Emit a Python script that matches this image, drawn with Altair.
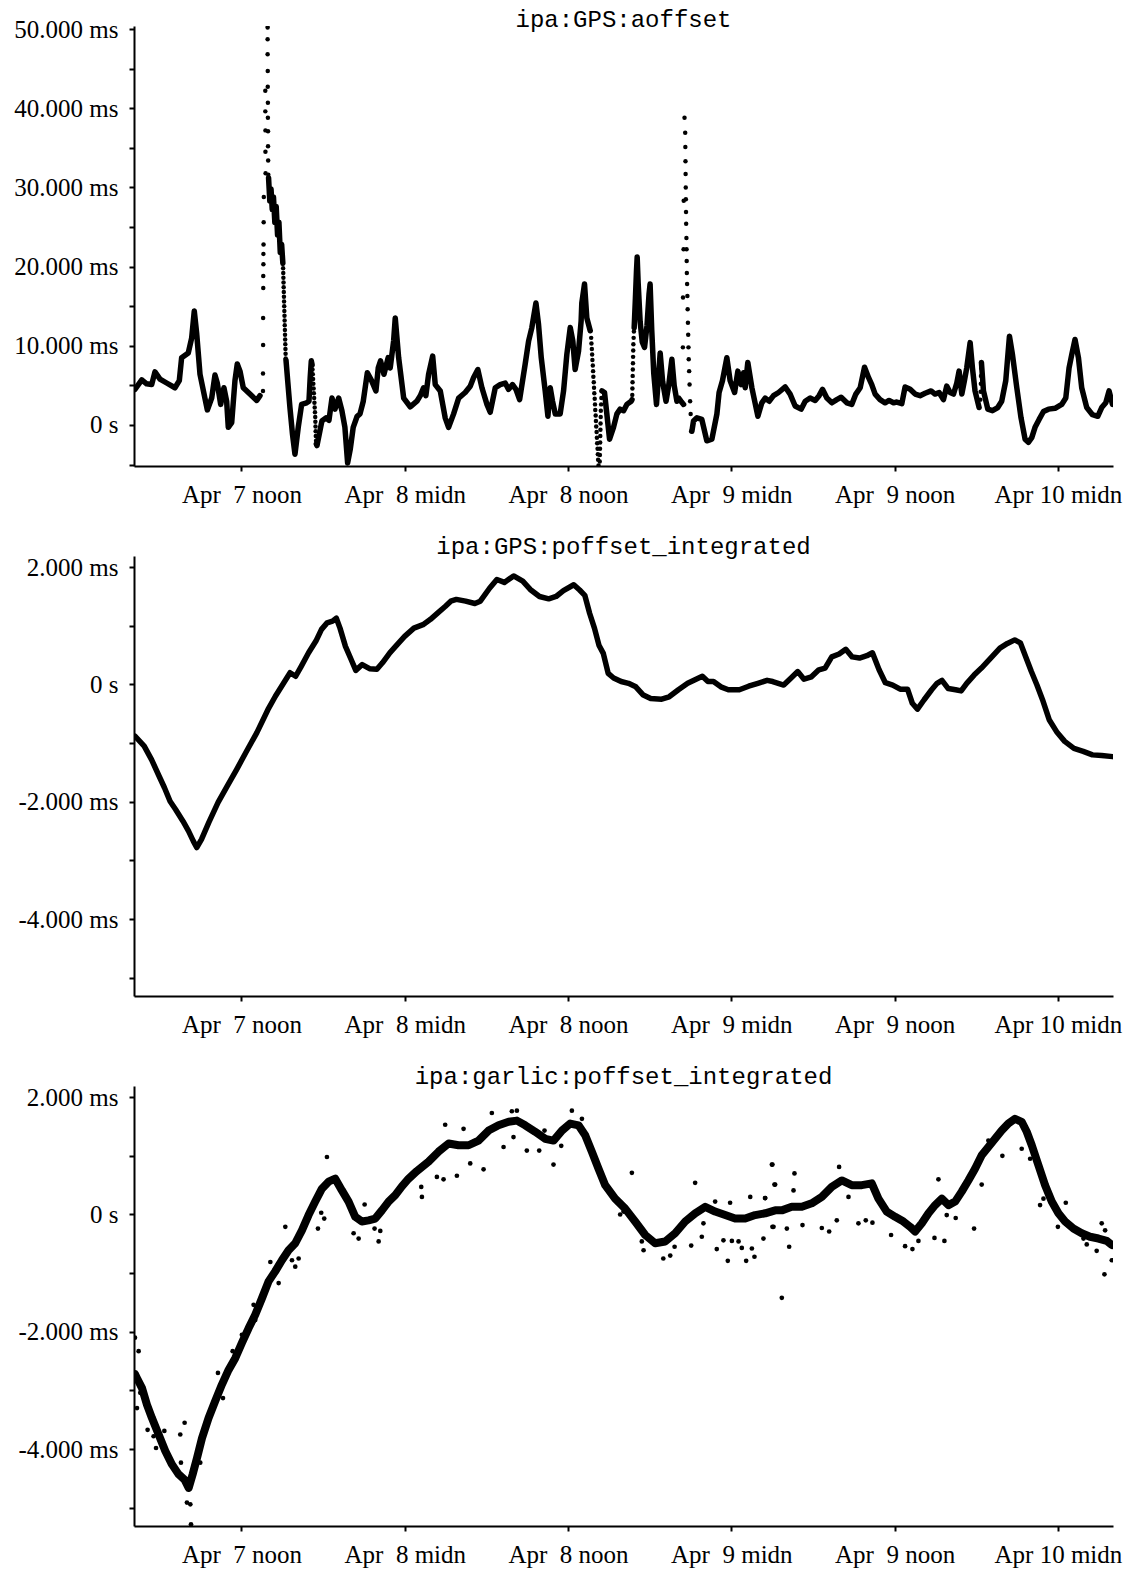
import altair as alt
import pandas as pd

# ---------------- axes / ticks ----------------
X_DOMAIN = [4.1, 76.05]          # hours since Apr 7 00:00
X_TICKS = [12, 24, 36, 48, 60, 72]
X_LABELS = ["Apr\u00a0\u00a07 noon", "Apr\u00a0\u00a08 midn", "Apr\u00a0\u00a08 noon",
            "Apr\u00a0\u00a09 midn", "Apr\u00a0\u00a09 noon", "Apr 10 midn"]

Y1_DOMAIN = [-5.18, 50.38]       # ms
Y1_TICKS = [-5, 0, 5, 10, 15, 20, 25, 30, 35, 40, 45, 50]
Y1_LABEL_VALUES = [0, 10, 20, 30, 40, 50]
Y1_LABEL_TEXTS = ["0 s", "10.000 ms", "20.000 ms", "30.000 ms", "40.000 ms", "50.000 ms"]

Y2_DOMAIN = [-5.31, 2.19]        # ms
Y2_TICKS = [-5, -4, -3, -2, -1, 0, 1, 2]
Y2_LABEL_VALUES = [-4, -2, 0, 2]
Y2_LABEL_TEXTS = ["-4.000 ms", "-2.000 ms", "0 s", "2.000 ms"]

TITLES = ["ipa:GPS:aoffset", "ipa:GPS:poffset_integrated", "ipa:garlic:poffset_integrated"]

# ---------------- panel 1: ipa:GPS:aoffset (hour, ms) ----------------
AOFF_A = [[4.17,4.5],[4.67,5.7],[5.03,5.2],[5.40,5.1],[5.64,6.7],[6.01,5.8],[6.50,5.3],[7.11,4.7],
          [7.43,5.6],[7.60,8.5],[8.09,9.1],[8.34,11.0],[8.53,14.4],[8.71,11.5],[8.95,6.4],[9.49,1.9],
          [9.81,3.4],[10.05,6.3],[10.22,5.3],[10.47,2.6],[10.71,4.7],[10.91,3.0],[11.03,-0.3],[11.28,0.3],
          [11.52,5.6],[11.69,7.7],[11.89,6.8],[12.13,4.7],[12.62,3.9],[13.12,3.1],[13.36,3.7]]
AOFF_B = [[13.99,31.2],[14.08,28.3],[14.17,29.8],[14.26,27.2],[14.35,28.8],[14.45,25.6],[14.55,27.6],
          [14.65,24.0],[14.75,25.6],[14.85,21.8],[14.95,22.8],[15.04,20.4]]
AOFF_C = [[15.27,8.2],[15.40,5.5],[15.56,2.2],[15.75,-1.2],[15.93,-3.7],[16.17,-0.3],[16.42,2.6],
          [16.79,2.8],[16.96,3.0],[17.05,6.0],[17.13,8.1],[17.19,7.6]]
AOFF_D = [[17.50,-2.4],[17.55,-2.6],[17.91,0.5],[18.21,0.9],[18.43,0.6],[18.65,3.4],[18.87,2.0],
          [19.14,3.4],[19.38,1.8],[19.60,-0.3],[19.80,-4.8],[20.00,-3.0],[20.21,-0.3],[20.50,1.1],
          [20.71,1.4],[20.95,3.0],[21.25,6.6],[21.56,5.6],[21.88,4.3],[22.05,7.2],[22.22,8.1],[22.47,6.4],
          [22.78,8.5],[22.93,7.2],[23.18,10.6],[23.30,13.5],[23.55,8.5],[23.92,3.4],[24.40,2.3],[24.89,3.0],
          [25.14,3.7],[25.38,4.7],[25.55,3.7],[25.75,6.4],[26.05,8.7],[26.24,5.1],[26.61,4.3],[26.97,0.9],
          [27.22,-0.3],[27.59,1.4],[27.96,3.4],[28.44,4.1],[28.81,4.9],[29.06,6.0],[29.37,7.0],[29.67,4.7],
          [30.04,2.6],[30.28,1.6],[30.65,4.7],[31.01,5.1],[31.38,5.3],[31.63,4.5],[31.92,5.1],[32.17,4.5],
          [32.44,3.2],[32.85,7.7],[33.10,10.6],[33.34,12.3],[33.64,15.4],[33.83,12.7],[34.03,8.5],
          [34.32,4.3],[34.52,1.1],[34.69,4.7],[34.86,3.0],[35.06,1.4],[35.42,1.4],[35.67,4.3],[35.91,8.9],
          [36.16,12.3],[36.35,10.6],[36.52,7.0],[36.77,9.3],[36.96,13.1],[37.01,15.4],[37.21,17.8],
          [37.38,13.5],[37.63,11.9]]
AOFF_E = [[38.49,4.3],[38.68,4.1],[38.85,1.4],[39.05,-1.8],[39.34,-0.3],[39.59,1.4],[39.83,2.0],
          [40.08,1.8],[40.32,2.6],[40.64,3.0],[40.70,3.2]]
AOFF_F = [[40.86,12.3],[40.95,16.0],[41.03,19.5],[41.08,21.2],[41.15,18.0],[41.30,13.0],[41.45,10.5],
          [41.62,9.8],[41.80,12.5],[41.95,16.5],[42.03,17.8],[42.15,12.0],[42.30,6.5],[42.50,2.6],
          [42.62,5.5],[42.77,9.1],[42.95,5.5],[43.20,3.0],[43.40,5.0],[43.63,8.3],[43.80,5.0],[44.00,3.0],
          [44.12,3.4],[44.30,3.0],[44.49,2.6]]
AOFF_G = [[45.10,-0.8],[45.22,0.5],[45.47,0.9],[45.83,0.7],[46.20,-2.0],[46.57,-1.8],[46.94,1.4],
          [47.10,4.1],[47.35,5.6],[47.67,8.5],[47.91,5.6],[48.24,4.1],[48.48,6.8],[48.72,5.1],[48.90,6.6],
          [49.02,4.7],[49.21,7.9],[49.51,4.7],[49.95,1.1],[50.24,2.8],[50.49,3.4],[50.78,3.0],[51.10,3.7],
          [51.47,4.1],[51.96,4.8],[52.32,3.9],[52.69,2.4],[53.13,2.0],[53.43,3.0],[53.79,3.4],[54.16,3.1],
          [54.45,3.7],[54.70,4.5],[55.02,3.4],[55.39,2.8],[55.75,3.2],[56.07,3.5],[56.49,2.8],[56.85,2.6],
          [57.15,3.9],[57.47,4.7],[57.79,7.3],[58.08,6.0],[58.32,5.1],[58.57,3.9],[58.93,3.2],[59.30,2.8],
          [59.59,3.1],[59.92,2.8],[60.16,2.9],[60.53,2.7],[60.77,4.8],[61.14,4.5],[61.51,3.9],[61.87,3.7],
          [62.24,4.0],[62.68,4.3],[62.97,3.9],[63.27,4.1],[63.59,3.2],[63.83,4.9],[64.08,4.1],[64.33,3.9],
          [64.57,5.3],[64.74,6.8],[64.94,3.9],[65.13,5.6],[65.30,7.2],[65.55,10.4],[65.72,7.2],[65.91,4.3],
          [66.21,2.2]]
AOFF_H = [[66.38,7.9],[66.53,4.3],[66.85,2.0],[67.19,1.8],[67.58,2.2],[67.87,3.0],[68.17,5.6],[68.29,8.1],
          [68.44,11.2],[68.66,8.9],[68.98,4.7],[69.29,0.9],[69.59,-1.8],[69.83,-2.2],[70.08,-1.6],
          [70.32,-0.3],[70.62,0.7],[70.94,1.7],[71.31,2.0],[71.79,2.1],[72.28,2.6],[72.58,3.4],[72.82,7.2],
          [73.02,8.9],[73.26,10.8],[73.51,8.5],[73.75,4.7],[74.12,2.2],[74.54,1.3],[74.93,1.1],[75.22,2.2],
          [75.52,2.8],[75.76,4.3],[76.01,2.6]]
AOFF_DOTS = [
    # spike near Apr 7 13:30
    [13.58,4.3],[13.58,6.5],[13.59,10.1],[13.59,13.5],[13.60,17.3],[13.60,18.8],[13.61,20.3],[13.61,21.6],
    [13.62,22.8],[13.63,25.6],[13.64,28.8],
    [13.75,42.2],[13.75,39.6],[13.76,37.2],[13.76,34.5],[13.77,31.8],
    [13.92,50.2],[13.92,48.7],[13.92,46.8],[13.93,44.7],[13.93,42.7],[13.94,40.7],[13.94,38.8],[13.95,37.1],
    [13.95,35.2],[13.96,33.4],[13.97,31.6],
    [15.06,19.8],[15.07,19.2],[15.08,18.6],[15.09,18.0],[15.10,17.4],[15.11,16.8],[15.12,16.2],[15.13,15.6],
    [15.14,15.0],[15.15,14.4],[15.16,13.8],[15.17,13.2],[15.18,12.6],[15.19,12.0],[15.20,11.4],[15.21,10.8],
    [15.22,10.2],[15.23,9.6],[15.24,9.0],[15.25,8.4],
    [17.22,7.0],[17.24,6.4],[17.26,5.8],[17.28,5.2],[17.30,4.6],[17.32,4.0],[17.34,3.4],[17.36,2.8],
    [17.38,2.2],[17.40,1.6],[17.42,1.0],[17.43,0.4],[17.44,-0.2],[17.45,-0.8],[17.46,-1.4],[17.48,-2.0],
    # drop near Apr 8 noon
    [37.70,11.0],[37.72,10.3],[37.75,9.6],[37.77,8.9],[37.79,8.2],[37.82,7.5],[37.84,6.8],[37.86,6.1],
    [37.89,5.4],[37.91,4.7],[37.93,4.0],[37.96,3.3],[37.98,2.6],[38.00,1.9],[38.03,1.2],[38.05,0.5],
    [38.07,-0.2],[38.10,-0.9],[38.12,-1.6],[38.14,-2.3],[38.17,-3.0],[38.19,-3.7],[38.21,-4.4],[38.24,-5.1],
    [38.33,-4.6],[38.34,-3.8],[38.35,-3.0],[38.36,-2.2],[38.37,-1.4],[38.38,-0.6],[38.39,0.2],[38.40,1.0],
    [38.41,1.8],[38.43,2.6],[38.45,3.4],
    [40.72,3.8],[40.73,4.6],[40.74,5.4],[40.75,6.2],[40.76,7.0],[40.77,7.8],[40.78,8.6],[40.79,9.4],
    [40.80,10.2],[40.82,11.0],[40.84,11.8],
    # spike near Apr 8 20:30
    [44.44,9.8],[44.45,16.1],[44.49,22.2],[44.50,28.3],[44.56,38.8],
    [44.61,36.9],[44.62,35.1],[44.63,33.3],[44.64,31.7],[44.65,30.0],[44.66,28.5],[44.67,26.9],[44.68,25.4],
    [44.70,23.6],[44.71,22.2],[44.72,20.7],[44.73,19.2],[44.75,17.8],[44.77,16.3],[44.79,14.6],[44.81,12.9],
    [44.83,11.4],[44.85,9.8],[44.87,8.3],[44.90,6.8],[44.93,5.1],[44.97,3.0],[45.01,1.4],[45.05,-0.8],
    [66.30,3.2],[66.32,4.2],[66.34,5.2],[66.35,6.2],[66.36,7.2]]

# ---------------- panel 2: ipa:GPS:poffset_integrated ----------------
GPS_POFF = [[4.17,-0.88],[4.85,-1.05],[5.39,-1.28],[5.94,-1.56],[6.34,-1.76],[6.75,-1.99],[7.16,-2.13],
            [7.70,-2.33],[8.11,-2.50],[8.46,-2.67],[8.71,-2.78],[9.06,-2.64],[9.60,-2.35],[10.28,-2.01],
            [10.96,-1.73],[11.64,-1.45],[12.32,-1.16],[13.13,-0.82],[13.94,-0.43],[14.49,-0.20],[15.03,0.00],
            [15.57,0.20],[15.98,0.14],[16.39,0.31],[16.93,0.54],[17.47,0.74],[17.88,0.94],[18.29,1.05],
            [18.69,1.08],[18.97,1.13],[19.24,0.96],[19.64,0.65],[20.05,0.43],[20.40,0.24],[20.87,0.34],
            [21.41,0.27],[21.95,0.26],[22.36,0.37],[22.90,0.54],[23.44,0.68],[23.99,0.82],[24.67,0.96],
            [25.34,1.02],[25.89,1.11],[26.43,1.22],[26.97,1.33],[27.38,1.42],[27.79,1.45],[28.47,1.42],
            [29.15,1.38],[29.55,1.42],[30.23,1.64],[30.77,1.79],[31.32,1.74],[32.00,1.85],[32.67,1.76],
            [33.22,1.62],[33.90,1.50],[34.58,1.46],[35.12,1.50],[35.66,1.60],[36.42,1.70],[36.85,1.61],
            [37.23,1.52],[37.59,1.21],[37.94,0.96],[38.27,0.67],[38.59,0.53],[38.95,0.19],[39.35,0.11],
            [39.90,0.05],[40.44,0.02],[40.98,-0.04],[41.53,-0.18],[42.07,-0.24],[42.88,-0.25],[43.43,-0.21],
            [44.11,-0.09],[44.79,0.02],[45.33,0.08],[45.87,0.14],[46.28,0.05],[46.69,0.05],[47.23,-0.04],
            [47.78,-0.09],[48.59,-0.09],[49.27,-0.03],[49.95,0.02],[50.63,0.07],[51.04,0.05],[51.85,-0.01],
            [52.39,0.11],[52.88,0.22],[53.34,0.09],[53.89,0.13],[54.43,0.25],[54.89,0.28],[55.38,0.47],
            [55.92,0.52],[56.41,0.60],[56.88,0.47],[57.42,0.45],[57.96,0.49],[58.37,0.54],[58.86,0.25],
            [59.32,0.03],[59.86,-0.01],[60.41,-0.08],[60.95,-0.08],[61.30,-0.32],[61.68,-0.42],[62.17,-0.26],
            [62.72,-0.09],[63.12,0.02],[63.48,0.07],[63.94,-0.07],[64.48,-0.09],[64.89,-0.11],[65.30,0.02],
            [65.84,0.16],[66.38,0.28],[67.06,0.45],[67.74,0.62],[68.29,0.70],[68.83,0.76],[69.24,0.71],
            [69.64,0.47],[70.05,0.22],[70.46,-0.01],[70.87,-0.26],[71.36,-0.60],[71.95,-0.82],[72.50,-0.97],
            [73.18,-1.09],[73.86,-1.14],[74.54,-1.20],[75.22,-1.21],[76.03,-1.23]]

# ---------------- panel 3: ipa:garlic:poffset_integrated ----------------
GARLIC_CORE = [[4.17,-2.72],[4.32,-2.79],[4.69,-2.96],[5.05,-3.24],[5.42,-3.47],[5.91,-3.75],[6.40,-4.03],
               [6.89,-4.26],[7.38,-4.43],[7.82,-4.52],[8.12,-4.66],[8.41,-4.43],[8.73,-4.15],[9.10,-3.81],
               [9.58,-3.47],[10.07,-3.18],[10.56,-2.90],[11.05,-2.65],[11.54,-2.45],[12.03,-2.19],
               [12.52,-1.94],[13.01,-1.71],[13.50,-1.43],[13.99,-1.14],[14.48,-0.97],[14.97,-0.78],
               [15.46,-0.61],[15.95,-0.49],[16.44,-0.27],[16.93,-0.01],[17.42,0.22],[17.91,0.44],[18.40,0.56],
               [18.89,0.61],[19.38,0.41],[19.87,0.22],[20.36,-0.04],[20.85,-0.12],[21.34,-0.10],[21.83,-0.07],
               [22.32,0.07],[22.81,0.22],[23.30,0.33],[23.79,0.48],[24.28,0.61],[24.89,0.74],[25.75,0.90],
               [26.48,1.07],[27.22,1.21],[27.95,1.18],[28.69,1.18],[29.42,1.26],[30.16,1.43],[30.89,1.52],
               [31.63,1.58],[32.24,1.60],[32.85,1.52],[33.59,1.41],[34.32,1.29],[34.93,1.26],[35.55,1.43],
               [36.16,1.55],[36.77,1.52],[37.26,1.35],[37.75,1.07],[38.24,0.78],[38.73,0.50],[39.46,0.27],
               [40.20,0.10],[40.93,-0.12],[41.67,-0.35],[42.40,-0.49],[43.14,-0.46],[43.87,-0.32],[44.61,-0.12],
               [45.34,0.02],[46.08,0.13],[46.81,0.05],[47.55,-0.01],[48.28,-0.07],[49.02,-0.07],[49.75,-0.01],
               [50.49,0.02],[51.22,0.07],[51.71,0.07],[52.44,0.13],[53.18,0.13],[53.91,0.19],[54.65,0.30],
               [55.38,0.47],[56.12,0.58],[56.85,0.50],[57.59,0.50],[58.32,0.53],[58.81,0.27],[59.42,0.05],
               [60.04,-0.04],[60.65,-0.12],[61.14,-0.21],[61.51,-0.29],[62.00,-0.15],[62.49,0.02],[62.98,0.16],
               [63.47,0.27],[63.96,0.16],[64.45,0.22],[64.93,0.39],[65.42,0.58],[65.91,0.78],[66.40,1.01],
               [66.89,1.15],[67.38,1.29],[67.87,1.43],[68.36,1.55],[68.85,1.63],[69.34,1.58],[69.71,1.41],
               [70.08,1.18],[70.57,0.84],[71.06,0.50],[71.55,0.22],[72.04,0.02],[72.53,-0.12],[73.14,-0.24],
               [73.75,-0.32],[74.36,-0.38],[74.98,-0.41],[75.59,-0.45],[75.96,-0.52]]
GARLIC_SCATTER = [[4.17,-2.10],[4.44,-2.33],[4.32,-3.30],[4.56,-3.04],[5.10,-3.67],[5.54,-3.78],[5.72,-3.98],
                  [6.33,-3.69],[7.50,-3.75],[7.82,-3.55],[7.55,-4.23],[7.99,-4.91],[8.24,-4.94],[8.29,-5.28],
                  [8.97,-4.23],[10.27,-2.70],[10.64,-3.13],[11.35,-2.33],[12.03,-2.05],[12.89,-1.54],
                  [13.01,-1.80],[14.12,-0.81],[14.73,-1.17],[15.22,-0.21],[15.71,-0.78],[15.95,-0.89],
                  [16.20,-0.75],[17.62,-0.24],[17.86,0.03],[18.08,-0.07],[18.28,0.98],[20.24,-0.32],
                  [20.61,-0.41],[21.05,0.17],[22.08,-0.46],[22.20,-0.28],[21.78,-0.24],[25.21,0.47],
                  [25.26,0.30],[26.36,0.64],[26.85,0.60],[26.97,1.53],[27.83,0.66],[28.32,1.46],[28.81,0.87],
                  [29.79,0.77],[30.40,1.73],[31.26,1.15],[31.87,1.76],[32.24,1.77],[31.99,1.32],[32.97,1.09],
                  [33.88,1.09],[34.27,1.43],[34.93,0.85],[35.50,1.17],[36.28,1.77],[37.02,1.63],[40.69,0.71],
                  [40.08,0.05],[39.83,0.00],[41.42,-0.46],[41.55,-0.61],[43.00,-0.75],[43.51,-0.70],
                  [43.83,-0.55],[45.05,-0.53],[45.34,0.54],[45.83,-0.38],[45.95,-0.15],[46.93,-0.59],
                  [47.42,-0.44],[47.74,-0.79],[48.04,-0.45],[48.53,-0.46],[48.77,-0.57],[49.09,-0.79],
                  [49.51,-0.58],[49.70,-0.72],[50.36,-0.41],[50.98,0.85],[51.17,0.51],[49.39,0.30],[50.49,0.28],
                  [51.10,-0.21],[46.81,0.22],[47.91,0.20],[51.71,-1.42],[51.02,0.85],[51.22,0.51],[52.64,0.70],
                  [52.57,0.41],[50.48,0.28],[51.02,-0.21],[52.08,-0.24],[52.25,-0.55],[53.23,-0.18],
                  [54.65,-0.23],[55.19,-0.29],[55.75,-0.10],[55.92,0.81],[56.61,0.30],[57.34,-0.15],
                  [57.88,-0.10],[58.37,-0.14],[59.74,-0.35],[60.77,-0.54],[61.31,-0.59],[61.75,-0.45],
                  [62.93,-0.40],[63.66,-0.45],[63.22,0.60],[63.83,-0.01],[64.49,-0.06],[65.84,-0.24],
                  [66.40,0.51],[66.89,1.26],[67.92,1.00],[69.34,1.12],[69.96,0.95],[70.69,0.16],[70.94,0.27],
                  [72.00,-0.21],[72.58,0.20],[73.88,-0.41],[74.12,-0.51],[74.85,-0.62],[75.22,-0.15],
                  [75.42,-1.02],[75.96,-0.78],[75.47,-0.27]]

# ---------------- helpers ----------------
SERIF = "Liberation Serif"
MONO = "Liberation Mono"


def label_expr(values, texts):
    expr = "''"
    for v, t in reversed(list(zip(values, texts))):
        expr = f"datum.value == {v} ? '{t}' : {expr}"
    return expr


def frame(segments):
    rows = []
    for s, seg in enumerate(segments):
        for i, (h, v) in enumerate(seg):
            rows.append({"h": h, "v": v, "seg": s, "i": i})
    return pd.DataFrame(rows)


def dots(points):
    return pd.DataFrame([{"h": h, "v": v} for h, v in points])


x_axis = alt.Axis(values=X_TICKS, labelExpr=label_expr(X_TICKS, X_LABELS), title=None, grid=False,
                  domainColor="black", domainWidth=2, tickColor="black", tickWidth=2, tickSize=5,
                  labelPadding=11, labelFont=SERIF, labelFontSize=25, labelColor="black",
                  labelFlush=False, labelOverlap=False)


def y_axis(ticks, lv, lt):
    return alt.Axis(values=ticks, labelExpr=label_expr(lv, lt), title=None, grid=False,
                    domainColor="black", domainWidth=2, tickColor="black", tickWidth=2, tickSize=5,
                    labelPadding=11, labelFont=SERIF, labelFontSize=25, labelColor="black",
                    labelOverlap=False, labelFlush=False)


def enc(ydom, yax):
    return dict(
        x=alt.X("h:Q", scale=alt.Scale(domain=X_DOMAIN, nice=False, zero=False), axis=x_axis),
        y=alt.Y("v:Q", scale=alt.Scale(domain=ydom, nice=False, zero=False), axis=yax),
    )


def title(t, off):
    return alt.TitleParams(t, font=MONO, fontSize=24, fontWeight="normal", color="black",
                           anchor="middle", frame="group", offset=off)


W, H = 979, 440

# panel 1
ax1 = y_axis(Y1_TICKS, Y1_LABEL_VALUES, Y1_LABEL_TEXTS)
p1_line = alt.Chart(frame([AOFF_A, AOFF_B, AOFF_C, AOFF_D, AOFF_E, AOFF_F, AOFF_G, AOFF_H])).mark_line(
    color="black", strokeWidth=5.5, strokeCap="round", strokeJoin="round", clip=True
).encode(detail="seg:N", order="i:Q", **enc(Y1_DOMAIN, ax1))
p1_dots = alt.Chart(dots(AOFF_DOTS)).mark_circle(color="black", size=20, opacity=1, clip=True).encode(
    **enc(Y1_DOMAIN, ax1))
p1 = alt.layer(p1_line, p1_dots).properties(width=W, height=H, title=title(TITLES[0], -15))

# panel 2
ax2 = y_axis(Y2_TICKS, Y2_LABEL_VALUES, Y2_LABEL_TEXTS)
p2 = alt.Chart(frame([GPS_POFF])).mark_line(
    color="black", strokeWidth=5.5, strokeCap="round", strokeJoin="round", clip=True
).encode(detail="seg:N", order="i:Q", **enc(Y2_DOMAIN, ax2)).properties(
    width=W, height=H, title=title(TITLES[1], -4))

# panel 3
p3_core = alt.Chart(frame([GARLIC_CORE])).mark_line(
    color="black", strokeWidth=8, strokeCap="round", strokeJoin="round", clip=True
).encode(detail="seg:N", order="i:Q", **enc(Y2_DOMAIN, ax2))
p3_dots = alt.Chart(dots(GARLIC_SCATTER)).mark_circle(color="black", size=22, opacity=1, clip=True).encode(
    **enc(Y2_DOMAIN, ax2))
p3 = alt.layer(p3_core, p3_dots).properties(width=W, height=H, title=title(TITLES[2], -4))

chart = alt.vconcat(p1, p2, p3, spacing=28).properties(
    padding={"left": 5, "top": 0, "right": 5, "bottom": 5},
    background="white",
).configure_view(stroke=None)

chart.save("out.html", embed_options={"renderer": "svg", "actions": False})
